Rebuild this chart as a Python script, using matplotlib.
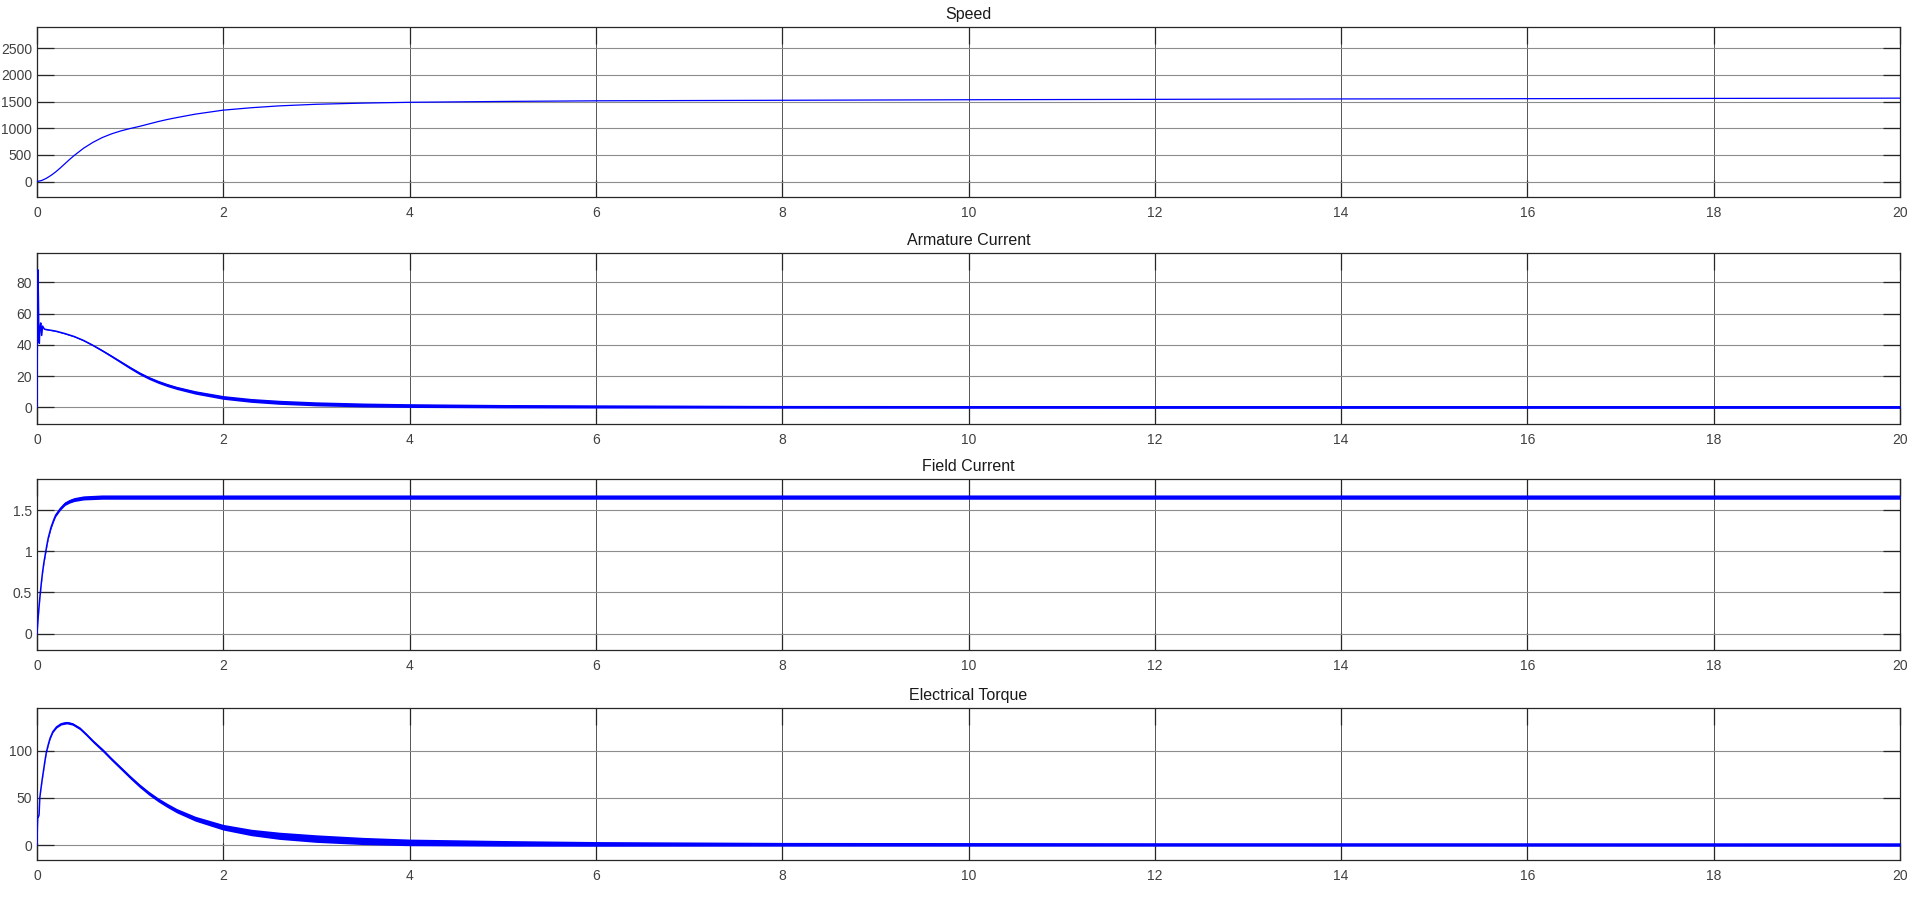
import matplotlib
matplotlib.use("Agg")
import matplotlib.pyplot as plt
import numpy as np

plt.rcParams['font.family'] = ['Liberation Sans', 'DejaVu Sans']

# --- values ---
speed_t = [0, 0.05, 0.1, 0.15, 0.2, 0.25, 0.3, 0.35, 0.4, 0.5, 0.6, 0.7, 0.8, 0.9, 1.0,
           1.1, 1.2, 1.3, 1.4, 1.5, 1.7, 2.0, 2.3, 2.6, 3.0, 3.5, 4, 5, 6, 8, 10, 14, 20]
speed_v = [0, 20, 60, 115, 180, 255, 335, 415, 490, 625, 735, 825, 895, 950, 995,
           1035, 1080, 1125, 1165, 1200, 1265, 1340, 1385, 1420, 1450, 1472, 1487, 1503,
           1515, 1525, 1535, 1550, 1565]

arm_t = [0, 0.005, 0.01, 0.015, 0.02, 0.025, 0.03, 0.04, 0.05, 0.06, 0.08, 0.1, 0.2, 0.3,
         0.4, 0.5, 0.6, 0.7, 0.8, 0.9, 1.0, 1.1, 1.2, 1.3, 1.4, 1.5, 1.7, 2.0, 2.3, 2.6,
         3.0, 3.5, 4, 5, 6, 8, 12, 20]
arm_v = [0, 60, 88, 70, 45, 41, 50, 54, 46, 52, 50, 49.8, 48.8, 47.2,
         45.3, 42.8, 39.7, 36.3, 32.7, 29, 25.3, 21.8, 18.8, 16.3, 14.2, 12.4, 9.5, 6.3, 4.4, 3.2,
         2.2, 1.5, 1.1, 0.7, 0.5, 0.3, 0.2, 0.2]
arm_band = [0, 0, 0, 0, 0, 0, 0, 0, 0, 0, 0.2, 0.2, 0.25, 0.3,
            0.3, 0.35, 0.4, 0.5, 0.6, 0.7, 0.8, 0.85, 0.9, 0.95, 1.0, 1.0, 1.1, 1.2, 1.25, 1.3,
            1.3, 1.25, 1.2, 1.1, 1.0, 0.9, 0.9, 0.9]

field_t = [0, 0.01, 0.02, 0.03, 0.045, 0.06, 0.075, 0.09, 0.105, 0.12, 0.15, 0.175, 0.2,
           0.25, 0.3, 0.35, 0.4, 0.5, 0.7, 1.0, 20]
field_v = [0, 0.16, 0.30, 0.43, 0.60, 0.75, 0.87, 0.97, 1.07, 1.16, 1.29, 1.37, 1.44,
           1.52, 1.58, 1.61, 1.63, 1.65, 1.66, 1.66, 1.66]
field_band = [0, 0.004, 0.006, 0.008, 0.009, 0.01, 0.011, 0.012, 0.013, 0.014, 0.016, 0.017, 0.018,
              0.02, 0.022, 0.023, 0.024, 0.025, 0.026, 0.026, 0.026]

tq_t = [0, 0.004, 0.008, 0.015, 0.022, 0.03, 0.04, 0.055, 0.07, 0.085, 0.1, 0.12, 0.14, 0.17,
        0.21, 0.26, 0.32, 0.38, 0.46, 0.53, 0.6, 0.71, 0.8, 0.9, 1.0, 1.1, 1.2, 1.3, 1.4, 1.5,
        1.7, 2.0, 2.3, 2.6, 3.0, 3.5, 4, 5, 6, 8, 12, 20]
tq_v = [0, 20, 30, 30, 32, 50, 58, 69, 79, 89, 98, 106, 113, 120,
        125, 128.3, 129.5, 128.2, 123.5, 117, 110, 100, 91, 81.5, 72, 63, 55, 48, 42, 36.5,
        28, 19, 13.5, 10, 7, 4.5, 3, 2, 1.4, 1, 0.8, 0.7]
tq_band = [0, 0, 0, 0, 0, 0, 0.3, 0.5, 0.6, 0.7, 0.8, 0.9, 1.0, 1.0,
           1.1, 1.2, 1.3, 1.3, 1.4, 1.4, 1.5, 1.6, 1.6, 1.7, 1.8, 1.9, 2.0, 2.1, 2.2, 2.3,
           2.6, 3.0, 3.4, 3.8, 4.0, 3.8, 3.5, 3.0, 2.5, 2.0, 1.8, 1.8]

titles = ['Speed', 'Armature Current', 'Field Current', 'Electrical Torque']
yticks = [[0, 500, 1000, 1500, 2000, 2500],
          [0, 20, 40, 60, 80],
          [0, 0.5, 1, 1.5],
          [0, 50, 100]]
ylims = [(-290, 2900), (-10.7, 98.8), (-0.2, 1.88), (-15.6, 145)]
xticks = list(range(0, 21, 2))

W, H = 1920, 906
fig = plt.figure(figsize=(W / 100, H / 100), dpi=100)

# axes boxes in pixels: (left, top, right, bottom)
boxes = [(37, 27, 1900, 197), (37, 253, 1900, 424), (37, 479, 1900, 650), (37, 708, 1900, 860)]

series = [(speed_t, speed_v, None),
          (arm_t, arm_v, arm_band),
          (field_t, field_v, field_band),
          (tq_t, tq_v, tq_band)]

for i, (l, t, r, b) in enumerate(boxes):
    ax = fig.add_axes([l / W, 1 - b / H, (r - l) / W, (b - t) / H])
    tt, vv, band = series[i]
    tt = np.array(tt)
    vv = np.array(vv)
    if band is not None:
        band = np.array(band)
        ax.fill_between(tt, vv - band, vv + band, color='#0000ff', lw=0, zorder=3)
        ax.plot(tt, vv, color='#0000ff', lw=1.1, zorder=3)
    else:
        ax.plot(tt, vv, color='#0000ff', lw=0.9, zorder=3)

    ax.set_xlim(0, 20)
    ax.set_ylim(*ylims[i])
    ax.set_xticks(xticks)
    ax.set_yticks(yticks[i])
    ax.set_xticklabels([str(x) for x in xticks])
    ax.set_yticklabels([('%g' % y) for y in yticks[i]])
    ax.xaxis.grid(True, color='#555555', lw=0.7, zorder=1)
    ax.yaxis.grid(True, color='#8c8c8c', lw=0.8, zorder=1)
    ax.set_axisbelow(True)
    ax.tick_params(direction='in', length=12.5, width=0.9, color='#262626',
                   top=True, right=True, labelsize=10, labelcolor='#404040')
    ax.tick_params(axis='y', pad=3.5)
    ax.tick_params(axis='x', pad=6.5)
    for s in ax.spines.values():
        s.set_color('#262626')
        s.set_linewidth(0.9)
    ax.set_title(titles[i], fontsize=11.5, color='#1a1a1a', pad=6)

fig.savefig('out.png', dpi=100)
